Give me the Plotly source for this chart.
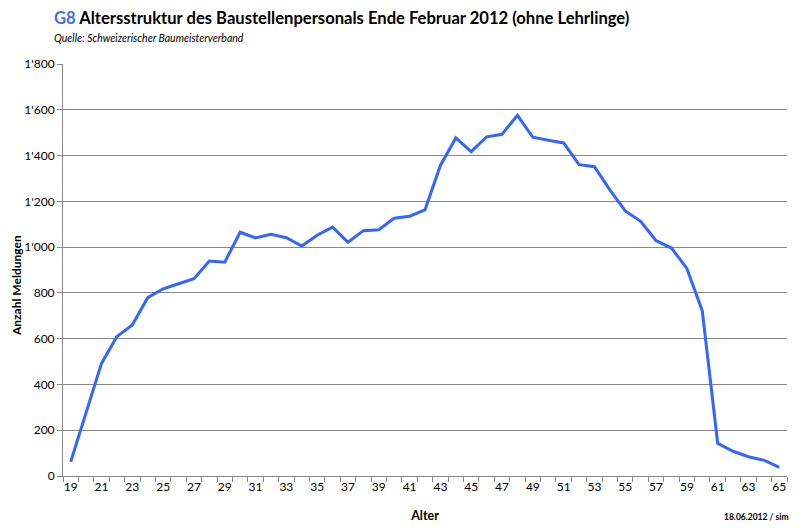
import plotly.graph_objects as go

ages = [19, 20, 21, 22, 23, 24, 25, 26, 27, 28, 29, 30, 31, 32, 33, 34, 35, 36, 37, 38,
        39, 40, 41, 42, 43, 44, 45, 46, 47, 48, 49, 50, 51, 52, 53, 54, 55, 56, 57, 58,
        59, 60, 61, 62, 63, 64, 65]
meldungen = [62, 276, 492, 609, 660, 779, 818, 840, 862, 939, 934, 1065, 1040, 1056, 1041,
             1005, 1052, 1087, 1021, 1072, 1076, 1126, 1135, 1163, 1357, 1477, 1417, 1482,
             1493, 1576, 1480, 1467, 1455, 1360, 1351, 1250, 1158, 1113, 1028, 996, 907,
             721, 143, 108, 84, 69, 38]
x_labels = [19, 21, 23, 25, 27, 29, 31, 33, 35, 37, 39, 41, 43, 45, 47, 49, 51, 53, 55, 57,
            59, 61, 63, 65]
y_ticks = [0, 200, 400, 600, 800, 1000, 1200, 1400, 1600, 1800]

FONT = "Lato"
OFF = 8  # page body margin
FW, FH = 809 - OFF, 530 - OFF
L, R, T, B = 63 - OFF, 787 - OFF, 64 - OFF, 476 - OFF
W, H = R - L, B - T

def px(x):
    return (x - OFF - L) / W

def py(y):
    return (B - (y - OFF)) / H

fig = go.Figure()
fig.add_trace(go.Scatter(
    x=ages, y=meldungen, mode="lines",
    line=dict(color="#3366FF", width=3),
    hoverinfo="x+y", showlegend=False,
))

boundaries = [a - 0.5 for a in ages] + [ages[-1] + 0.5]

fig.update_layout(
    width=FW, height=FH,
    margin=dict(l=L, r=FW - R, t=T, b=FH - B, autoexpand=False),
    paper_bgcolor="white", plot_bgcolor="white",
    separators=".'",
    font=dict(family=FONT, size=11, color="black"),
    xaxis=dict(
        range=[ages[0] - 0.5, ages[-1] + 0.5], automargin=False,
        tickvals=x_labels, ticktext=[str(v) for v in x_labels],
        ticks="", showgrid=False, zeroline=False,
        showline=True, linecolor="#888888", linewidth=1,
        tickfont=dict(family=FONT, size=12, color="black"),
        minor=dict(tickvals=boundaries, ticks="outside", ticklen=5,
                   tickcolor="#888888", tickwidth=1, showgrid=False),
        title=dict(text="<b>Alter</b>", font=dict(family=FONT, size=12.5, color="black"),
                   standoff=17),
    ),
    yaxis=dict(
        range=[0, 1800], tickvals=y_ticks, tickformat=",d", automargin=False,
        ticks="outside", ticklen=5, tickcolor="#888888",
        showgrid=True, gridcolor="#888888", gridwidth=1, zeroline=False,
        showline=True, linecolor="#888888", linewidth=1,
        tickfont=dict(family=FONT, size=12, color="black"),
    ),
    annotations=[
        dict(text="<b><span style='color:#3F6FEF'>G8</span> Altersstruktur des Baustellenpersonals Ende Februar 2012 (ohne Lehrlinge)</b>",
             xref="paper", yref="paper", x=px(52), y=py(18), xanchor="left", yanchor="middle",
             showarrow=False, font=dict(family=FONT, size=16.6, color="black")),
        dict(text="<i>Quelle: Schweizerischer Baumeisterverband</i>",
             xref="paper", yref="paper", x=px(52), y=py(38), xanchor="left", yanchor="middle",
             showarrow=False, font=dict(family=FONT, size=10.5, color="black")),
        dict(text="<b>Anzahl Meldungen</b>", textangle=-90,
             xref="paper", yref="paper", x=px(16), y=py(286), xanchor="center", yanchor="middle",
             showarrow=False, font=dict(family=FONT, size=12, color="black")),
        dict(text="<b>18.06.2012 / sim</b>",
             xref="paper", yref="paper", x=px(791), y=py(517), xanchor="right", yanchor="middle",
             showarrow=False, font=dict(family=FONT, size=8.5, color="black")),
    ],
)

fig.write_html("out.html")
